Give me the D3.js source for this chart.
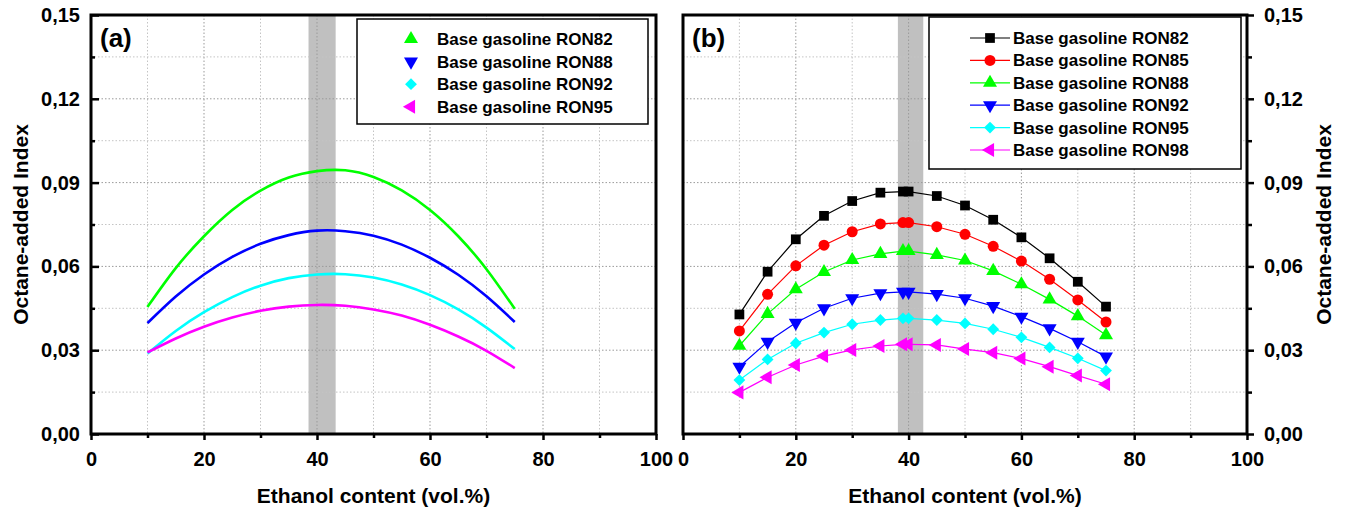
<!DOCTYPE html>
<html>
<head>
<meta charset="utf-8">
<script src="https://cdn.jsdelivr.net/npm/d3@7"></script>
<style>
  body { margin: 0; background: #fff; }
  text { font-family: Arial, "Liberation Sans", sans-serif; font-weight: bold; }
</style>
</head>
<body>
<script>
const width = 1346;
const height = 511;

// panel (a): fitted curves, sampled every 5 vol.%
const curveX = [10, 15, 20, 25, 30, 35, 40, 45, 50, 55, 60, 65, 70, 75];
const curveRON82 = [0.0455, 0.0594, 0.0708, 0.0802, 0.0871, 0.0918, 0.0941, 0.0944, 0.0920, 0.0872, 0.0802, 0.0708, 0.0590, 0.0448];
const curveRON88 = [0.0397, 0.0492, 0.0571, 0.0634, 0.0681, 0.0712, 0.0728, 0.0726, 0.0710, 0.0678, 0.0631, 0.0570, 0.0493, 0.0401];
const curveRON92 = [0.0288, 0.0369, 0.0436, 0.0490, 0.0531, 0.0558, 0.0571, 0.0572, 0.0560, 0.0535, 0.0497, 0.0446, 0.0381, 0.0304];
const curveRON95 = [0.0292, 0.0342, 0.0384, 0.0417, 0.0441, 0.0456, 0.0462, 0.0459, 0.0446, 0.0424, 0.0391, 0.0349, 0.0298, 0.0236];

// panel (b): measured points
const pointX = [10, 15, 20, 25, 30, 35, 39, 40, 45, 50, 55, 60, 65, 70, 75];
const pointRON82 = [0.0428, 0.0581, 0.0697, 0.0781, 0.0834, 0.0864, 0.0868, 0.0868, 0.0852, 0.0818, 0.0767, 0.0704, 0.0629, 0.0545, 0.0456];
const pointRON85 = [0.0369, 0.0500, 0.0602, 0.0676, 0.0724, 0.0752, 0.0757, 0.0757, 0.0742, 0.0715, 0.0672, 0.0619, 0.0554, 0.0480, 0.0401];
const pointRON88 = [0.0316, 0.0430, 0.0518, 0.0580, 0.0623, 0.0645, 0.0655, 0.0655, 0.0641, 0.0621, 0.0584, 0.0536, 0.0482, 0.0422, 0.0354];
const pointRON92 = [0.0241, 0.0330, 0.0398, 0.0450, 0.0486, 0.0504, 0.0509, 0.0509, 0.0501, 0.0486, 0.0458, 0.0420, 0.0378, 0.0330, 0.0277];
const pointRON95 = [0.0193, 0.0267, 0.0325, 0.0363, 0.0393, 0.0408, 0.0414, 0.0414, 0.0408, 0.0396, 0.0375, 0.0346, 0.0310, 0.0271, 0.0227];
const pointRON98 = [0.0149, 0.0203, 0.0247, 0.0279, 0.0301, 0.0315, 0.0321, 0.0321, 0.0319, 0.0304, 0.0291, 0.0270, 0.0241, 0.0209, 0.0178];

const xTicks = [0, 20, 40, 60, 80, 100];
const xMinor = [10, 30, 50, 70, 90];
const yTicks = [0, 0.03, 0.06, 0.09, 0.12, 0.15];
const yMinor = [0.015, 0.045, 0.075, 0.105, 0.135];
const bandA = [38.5, 43.3];
const bandB = [38.1, 42.6];

const seriesA = [
  {name: 'Base gasoline RON82', values: curveRON82, color: '#00ff00', shape: 'up'},
  {name: 'Base gasoline RON88', values: curveRON88, color: '#0000ff', shape: 'down'},
  {name: 'Base gasoline RON92', values: curveRON92, color: '#00ffff', shape: 'diamond'},
  {name: 'Base gasoline RON95', values: curveRON95, color: '#ff00ff', shape: 'left'}
];
const seriesB = [
  {name: 'Base gasoline RON82', values: pointRON82, color: '#000000', shape: 'square'},
  {name: 'Base gasoline RON85', values: pointRON85, color: '#ff0000', shape: 'circle'},
  {name: 'Base gasoline RON88', values: pointRON88, color: '#00ff00', shape: 'up'},
  {name: 'Base gasoline RON92', values: pointRON92, color: '#0000ff', shape: 'down'},
  {name: 'Base gasoline RON95', values: pointRON95, color: '#00ffff', shape: 'diamond'},
  {name: 'Base gasoline RON98', values: pointRON98, color: '#ff00ff', shape: 'left'}
];

const yScale = d3.scaleLinear().domain([0, 0.15]).range([434, 15]);
const xScaleA = d3.scaleLinear().domain([0, 100]).range([91, 656]);
const xScaleB = d3.scaleLinear().domain([0, 100]).range([683, 1247]);
const fmt = v => d3.format('.2f')(v).replace('.', ',');

// marker shapes
const shapes = {
  square: {type: d3.symbolSquare, size: 95, rot: 0},
  circle: {type: d3.symbolCircle, size: 95, rot: 0},
  up: {type: d3.symbolTriangle, size: 85, rot: 0},
  down: {type: d3.symbolTriangle, size: 85, rot: 180},
  left: {type: d3.symbolTriangle, size: 85, rot: -90},
  diamond: {type: d3.symbolSquare, size: 70, rot: 45}
};
const drawMarker = function(sel, shape, color, x, y) {
  const s = shapes[shape];
  sel.append('path')
    .attr('d', d3.symbol().type(s.type).size(s.size)())
    .attr('transform', `translate(${x},${y}) rotate(${s.rot})`)
    .attr('fill', color);
}

const svg = d3.select('body').append('svg')
  .attr('width', width)
  .attr('height', height);

function drawFrame(x, band, label, labelX, yAxisSide) {
  const g = svg.append('g');
  const [x0, x1] = x.range();
  const [y0, y1] = yScale.range();

  // grey band
  g.append('rect')
    .attr('x', x(band[0])).attr('y', y1)
    .attr('width', x(band[1]) - x(band[0])).attr('height', y0 - y1)
    .attr('fill', '#c0c0c0');

  // grid
  xMinor.concat(xTicks.slice(1, -1)).forEach(v => {
    g.append('line')
      .attr('x1', x(v)).attr('x2', x(v)).attr('y1', y1).attr('y2', y0)
      .attr('stroke', xTicks.includes(v) ? '#9a9a9a' : '#c4c4c4')
      .attr('stroke-width', 1).attr('stroke-dasharray', '1.5,2');
  });
  yMinor.concat(yTicks.slice(1, -1)).forEach(v => {
    g.append('line')
      .attr('x1', x0).attr('x2', x1).attr('y1', yScale(v)).attr('y2', yScale(v))
      .attr('stroke', yTicks.includes(v) ? '#9a9a9a' : '#c4c4c4')
      .attr('stroke-width', 1).attr('stroke-dasharray', '1.5,2');
  });

  // x axis
  const xAxis = g.append('g').attr('transform', `translate(0,${y0})`)
    .call(d3.axisBottom(x).tickValues(xTicks).tickFormat(d3.format('d')).tickSize(6).tickPadding(12));
  g.append('g').attr('transform', `translate(0,${y0})`)
    .call(d3.axisBottom(x).tickValues(xMinor).tickFormat('').tickSize(4));
  xAxis.selectAll('text').attr('font-size', 20).attr('fill', '#000')
    .style('font-family', 'Arial, "Liberation Sans", sans-serif').style('font-weight', 'bold');

  // y axis
  let yAxis;
  if (yAxisSide === 'left') {
    yAxis = g.append('g').attr('transform', `translate(${x0},0)`)
      .call(d3.axisLeft(yScale).tickValues(yTicks).tickFormat(fmt).tickSize(-8).tickPadding(11));
    g.append('g').attr('transform', `translate(${x0},0)`)
      .call(d3.axisLeft(yScale).tickValues(yMinor).tickFormat('').tickSize(-4));
  } else {
    yAxis = g.append('g').attr('transform', `translate(${x1},0)`)
      .call(d3.axisRight(yScale).tickValues(yTicks).tickFormat(fmt).tickSize(7).tickPadding(10));
    g.append('g').attr('transform', `translate(${x1},0)`)
      .call(d3.axisRight(yScale).tickValues(yMinor).tickFormat('').tickSize(5));
  }
  yAxis.selectAll('text').attr('font-size', 20).attr('fill', '#000')
    .style('font-family', 'Arial, "Liberation Sans", sans-serif').style('font-weight', 'bold');
  g.selectAll('.domain').remove();
  g.selectAll('.tick line').attr('stroke', '#000').attr('stroke-width', 2.5);

  // frame
  g.append('rect')
    .attr('x', x0).attr('y', y1).attr('width', x1 - x0).attr('height', y0 - y1)
    .attr('fill', 'none').attr('stroke', '#000').attr('stroke-width', 3);

  // titles
  g.append('text')
    .attr('x', (x0 + x1) / 2).attr('y', 503)
    .attr('text-anchor', 'middle').attr('font-size', 21)
    .text('Ethanol content (vol.%)');
  const ty = (y0 + y1) / 2;
  const tx = yAxisSide === 'left' ? 28 : 1331;
  g.append('text')
    .attr('transform', `translate(${tx},${ty}) rotate(-90)`)
    .attr('text-anchor', 'middle').attr('font-size', 21)
    .text('Octane-added Index');
  g.append('text')
    .attr('x', labelX).attr('y', 47)
    .attr('font-size', 26)
    .text(label);
  return g;
}

// panel (a)
const gA = drawFrame(xScaleA, bandA, '(a)', 100, 'left');
const lineA = d3.line()
  .x((d, i) => xScaleA(curveX[i]))
  .y(d => yScale(d))
  .curve(d3.curveNatural);
seriesA.forEach(s => {
  gA.append('path')
    .attr('d', lineA(s.values))
    .attr('fill', 'none').attr('stroke', s.color).attr('stroke-width', 2.6);
});

// legend (a)
const legA = gA.append('g');
legA.append('rect')
  .attr('x', 357).attr('y', 19).attr('width', 291).attr('height', 105)
  .attr('fill', '#fff').attr('stroke', '#000').attr('stroke-width', 1.5);
seriesA.forEach((s, i) => {
  const y = 39 + i * 22.6;
  drawMarker(legA, s.shape, s.color, 411, y);
  legA.append('text').attr('x', 437).attr('y', y + 6).attr('font-size', 17).text(s.name);
});

// panel (b)
const gB = drawFrame(xScaleB, bandB, '(b)', 692, 'right');
const lineB = d3.line()
  .x((d, i) => xScaleB(pointX[i]))
  .y(d => yScale(d));
seriesB.forEach(s => {
  gB.append('path')
    .attr('d', lineB(s.values))
    .attr('fill', 'none').attr('stroke', s.color).attr('stroke-width', 1.2);
  s.values.forEach((v, i) => drawMarker(gB, s.shape, s.color, xScaleB(pointX[i]), yScale(v)));
});

// legend (b)
const legB = gB.append('g');
legB.append('rect')
  .attr('x', 929).attr('y', 17).attr('width', 312).attr('height', 152)
  .attr('fill', '#fff').attr('stroke', '#000').attr('stroke-width', 1.5);
seriesB.forEach((s, i) => {
  const y = 38 + i * 22.4;
  legB.append('line')
    .attr('x1', 970).attr('x2', 1010).attr('y1', y).attr('y2', y)
    .attr('stroke', s.color).attr('stroke-width', 1.2);
  drawMarker(legB, s.shape, s.color, 990, y);
  legB.append('text').attr('x', 1013).attr('y', y + 6).attr('font-size', 17).text(s.name);
});
</script>
</body>
</html>
